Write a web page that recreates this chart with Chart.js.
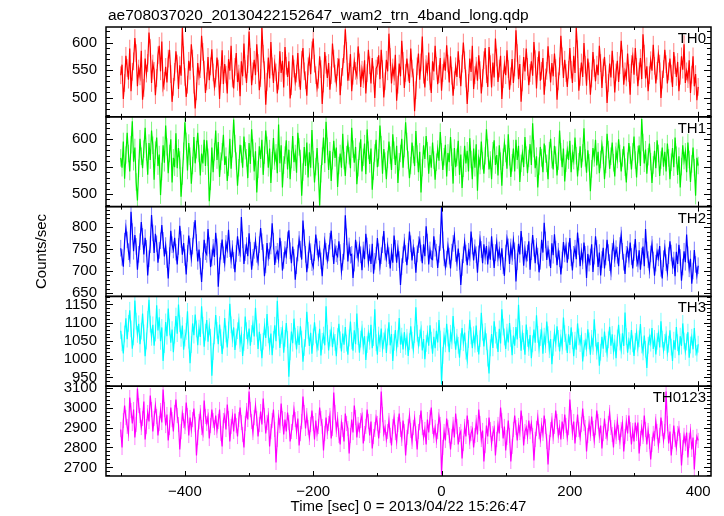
<!DOCTYPE html>
<html>
<head>
<meta charset="utf-8">
<script src="https://cdn.jsdelivr.net/npm/chart.js@4.4.1/dist/chart.umd.min.js"></script>
<style>
  body { margin: 0; background: #fff; }
</style>
</head>
<body>
<canvas id="lcChart" width="724" height="516"></canvas>
<script>
const fileTitle = 'ae708037020_20130422152647_wam2_trn_4band_long.qdp';
const xTitle = 'Time [sec] 0 = 2013/04/22 15:26:47';
const yTitle = 'Counts/sec';

// 2 s bins starting at -500 s (one row = 50 s)
const timeStart = -500;
const timeStep = 2;

const bandNames = ['TH0', 'TH1', 'TH2', 'TH3', 'TH0123'];

const th0 = [
  541, 560, 498, 527, 576, 554, 533, 589, 512, 547, 566, 608, 581, 521, 553, 539, 585, 497, 518, 571, 544, 563, 618, 590, 527,
  562, 549, 505, 536, 577, 594, 548, 602, 519, 531, 556, 528, 571, 587, 543, 493, 520, 547, 584, 562, 516, 559, 540, 626, 577,
  538, 502, 524, 567, 549, 597, 571, 524, 481, 512, 563, 539, 552, 612, 583, 551, 509, 530, 574, 532, 557, 588, 546, 520, 535,
  573, 553, 498, 541, 586, 525, 561, 542, 508, 570, 549, 594, 535, 517, 556, 581, 529, 544, 503, 566, 539, 598, 552, 527, 561,
  620, 574, 523, 548, 569, 541, 597, 563, 514, 536, 626, 580, 550, 488, 529, 573, 535, 601, 557, 527, 562, 546, 508, 531, 584,
  545, 567, 519, 592, 558, 538, 566, 499, 521, 577, 553, 529, 544, 581, 536, 515, 569, 590, 548, 532, 504, 557, 574, 543, 586,
  607, 562, 541, 518, 533, 575, 552, 489, 526, 583, 560, 536, 563, 515, 541, 598, 571, 544, 527, 556, 571, 505, 538, 556, 579,
  624, 585, 531, 547, 579, 512, 540, 566, 549, 540, 593, 564, 520, 551, 534, 568, 508, 545, 587, 559, 526, 572, 541, 500, 553,
  558, 577, 534, 587, 552, 501, 530, 569, 548, 616, 574, 526, 555, 539, 578, 495, 524, 562, 539, 603, 567, 518, 545, 571, 546,
  527, 589, 553, 537, 476, 514, 557, 580, 533, 564, 611, 542, 519, 561, 547, 582, 530, 509, 566, 548, 594, 558, 525, 543, 572,
  513, 545, 566, 549, 595, 562, 528, 575, 540, 504, 532, 557, 538, 584, 552, 521, 562, 600, 568, 535, 489, 527, 571, 547, 594,
  516, 541, 558, 531, 577, 550, 508, 536, 568, 590, 543, 520, 592, 561, 519, 564, 537, 607, 573, 529, 553, 576, 498, 534, 560,
  541, 586, 552, 515, 539, 570, 527, 555, 622, 581, 534, 561, 493, 528, 574, 548, 589, 556, 523, 545, 566, 540, 601, 570, 517,
  558, 584, 531, 549, 572, 506, 537, 549, 593, 560, 528, 563, 539, 580, 554, 497, 530, 557, 612, 575, 536, 569, 545, 520, 551,
  590, 551, 527, 576, 545, 626, 588, 513, 538, 564, 538, 599, 560, 522, 571, 548, 506, 535, 583, 554, 530, 560, 541, 594, 563,
  518, 555, 574, 543, 491, 527, 562, 537, 585, 552, 510, 546, 567, 529, 559, 603, 571, 524, 548, 537, 580, 545, 506, 561, 575,
  542, 590, 556, 521, 548, 572, 534, 615, 580, 535, 557, 512, 541, 568, 549, 596, 558, 526, 549, 579, 562, 500, 533, 552, 587,
  561, 526, 548, 571, 544, 520, 583, 559, 538, 565, 512, 540, 575, 551, 597, 527, 548, 534, 568, 509, 542, 575, 521, 543, 496,
  520
];
const th1 = [
  566, 548, 596, 528, 571, 612, 574, 541, 590, 633, 559, 585, 522, 488, 547, 601, 569, 547, 582, 621, 577, 535, 593, 562, 616,
  589, 526, 580, 603, 551, 572, 498, 541, 589, 557, 625, 586, 538, 574, 600, 521, 566, 549, 611, 547, 584, 562, 495, 533, 578,
  631, 596, 543, 593, 569, 519, 552, 604, 556, 581, 612, 574, 534, 574, 556, 599, 551, 598, 567, 487, 523, 585, 540, 577, 616,
  562, 595, 531, 560, 577, 608, 553, 569, 524, 549, 601, 546, 583, 636, 592, 560, 515, 548, 590, 573, 548, 605, 579, 566, 529,
  593, 555, 618, 584, 541, 578, 503, 545, 587, 564, 599, 535, 571, 616, 589, 548, 583, 520, 561, 602, 560, 575, 538, 627, 556,
  589, 512, 553, 571, 598, 545, 581, 527, 563, 606, 558, 574, 539, 612, 586, 565, 497, 540, 586, 551, 594, 530, 576, 548, 617,
  563, 521, 550, 584, 541, 479, 537, 569, 603, 556, 632, 587, 544, 579, 524, 561, 597, 566, 585, 513, 552, 574, 548, 610, 561,
  533, 572, 592, 570, 547, 621, 582, 557, 586, 518, 548, 578, 600, 541, 567, 592, 536, 618, 580, 555, 583, 508, 542, 575, 599,
  549, 566, 625, 590, 537, 582, 560, 527, 563, 596, 571, 544, 609, 580, 553, 588, 520, 559, 574, 601, 548, 583, 631, 596, 562,
  529, 552, 594, 572, 551, 615, 573, 540, 577, 503, 548, 589, 564, 606, 579, 537, 571, 548, 594, 562, 526, 558, 582, 561, 613,
  577, 544, 568, 590, 532, 575, 558, 604, 567, 519, 584, 549, 567, 597, 535, 572, 511, 547, 588, 556, 579, 541, 602, 563, 527,
  583, 548, 591, 506, 565, 552, 596, 561, 537, 570, 618, 584, 545, 562, 527, 579, 598, 553, 571, 534, 589, 560, 515, 567, 593,
  574, 546, 609, 568, 531, 557, 583, 541, 599, 562, 588, 522, 556, 574, 549, 604, 571, 538, 565, 591, 553, 629, 583, 547, 569,
  512, 551, 586, 566, 540, 592, 573, 556, 527, 579, 601, 563, 545, 588, 571, 534, 560, 616, 577, 549, 583, 523, 556, 580, 562,
  597, 540, 574, 561, 603, 570, 532, 559, 587, 548, 575, 620, 566, 539, 580, 557, 505, 546, 584, 566, 599, 552, 577, 538, 563,
  590, 571, 527, 554, 610, 581, 546, 569, 594, 557, 532, 578, 563, 600, 574, 541, 566, 587, 549, 521, 560, 593, 571, 545, 577,
  605, 562, 530, 572, 589, 551, 637, 594, 556, 581, 537, 568, 592, 559, 520, 553, 579, 547, 598, 574, 533, 562, 585, 550, 577,
  541, 592, 566, 527, 558, 584, 549, 603, 571, 535, 569, 512, 550, 589, 561, 577, 540, 594, 563, 522, 555, 585, 548, 497, 566,
  552
];
const th2 = [
  752, 731, 710, 768, 798, 771, 744, 728, 835, 790, 745, 782, 756, 703, 738, 767, 812, 779, 738, 776, 752, 690, 728, 760, 828,
  787, 741, 785, 762, 719, 747, 769, 805, 770, 733, 758, 726, 683, 735, 792, 760, 748, 776, 743, 715, 756, 803, 772, 737, 764,
  731, 692, 740, 781, 756, 729, 757, 793, 816, 765, 722, 749, 711, 675, 723, 771, 744, 738, 796, 758, 709, 730, 754, 732, 787,
  755, 664, 712, 745, 772, 737, 718, 763, 749, 794, 751, 725, 751, 724, 697, 740, 779, 753, 740, 823, 771, 716, 742, 758, 734,
  786, 747, 703, 731, 747, 769, 738, 721, 760, 798, 767, 742, 688, 714, 764, 731, 746, 757, 809, 768, 714, 738, 745, 727, 776,
  749, 701, 724, 749, 735, 771, 793, 746, 718, 756, 731, 680, 712, 741, 772, 750, 726, 815, 776, 738, 697, 725, 761, 744, 719,
  709, 742, 783, 755, 730, 750, 723, 688, 732, 768, 745, 724, 741, 768, 792, 751, 716, 754, 739, 733, 768, 742, 699, 720, 745,
  827, 778, 722, 757, 736, 738, 684, 718, 771, 748, 729, 759, 737, 702, 748, 727, 785, 757, 719, 742, 716, 762, 694, 722, 736,
  775, 744, 711, 735, 760, 791, 743, 728, 757, 735, 706, 743, 719, 781, 752, 719, 751, 726, 668, 710, 737, 766, 740, 713, 745,
  790, 762, 724, 753, 735, 696, 739, 760, 772, 741, 718, 761, 734, 802, 766, 715, 748, 728, 726, 779, 752, 743, 707, 738, 765,
  846, 771, 730, 709, 727, 757, 734, 706, 743, 763, 781, 740, 719, 751, 722, 668, 708, 737, 766, 741, 713, 745, 731, 790, 757,
  724, 753, 737, 696, 739, 772, 749, 718, 761, 734, 757, 715, 748, 726, 779, 743, 707, 742, 765, 730, 748, 721, 752, 712, 689,
  741, 774, 755, 716, 755, 733, 770, 746, 676, 721, 762, 738, 791, 758, 712, 749, 727, 741, 768, 703, 744, 782, 752, 718, 756,
  734, 697, 722, 771, 742, 810, 771, 725, 750, 730, 707, 763, 736, 784, 750, 713, 745, 728, 692, 725, 766, 739, 757, 719, 746,
  775, 730, 701, 738, 752, 727, 788, 756, 711, 744, 723, 765, 738, 684, 739, 718, 732, 761, 698, 734, 779, 752, 709, 742, 690,
  726, 753, 706, 732, 771, 742, 719, 698, 745, 764, 728, 751, 736, 711, 758, 782, 745, 720, 693, 738, 750, 727, 765, 733, 706,
  742, 773, 729, 716, 747, 703, 734, 756, 711, 796, 748, 726, 702, 739, 761, 725, 689, 718, 744, 730, 757, 706, 683, 728, 752,
  719, 697, 735, 768, 741, 712, 725, 688, 744, 716, 760, 731, 678, 709, 745, 720, 783, 737, 705, 728, 671, 700, 748, 715, 690,
  712
];
const th3 = [
  1078, 1045, 1016, 1069, 1112, 1055, 1098, 1134, 1083, 1029, 1061, 1161, 1104, 1068, 1097, 1041, 1077, 1125, 1072, 1008, 1050, 1109, 1163, 1096, 1060,
  1094, 1037, 1072, 1148, 1079, 1115, 1049, 1087, 995, 1040, 1102, 1063, 1139, 1088, 1045, 1081, 1019, 1066, 1118, 1070, 1150, 1097, 1057, 1092, 1026,
  1058, 1076, 1131, 1052, 989, 1040, 1098, 1066, 1122, 1083, 1038, 1085, 1061, 1145, 1093, 1034, 1074, 1107, 1048, 1089, 1060, 955, 1021, 1064, 1121,
  1079, 1041, 1095, 1059, 1014, 1052, 1113, 1069, 1032, 1080, 1152, 1094, 1056, 1087, 1025, 1061, 1078, 1102, 1043, 1066, 1009, 1046, 1117, 1078, 1051,
  1084, 1037, 1070, 1096, 1062, 1141, 1085, 1028, 1075, 1046, 1003, 1049, 1089, 1058, 1124, 1067, 1035, 1070, 1011, 1054, 1093, 1049, 1160, 1087, 1031,
  1065, 1082, 1018, 1057, 1099, 1054, 952, 1020, 1076, 1044, 1111, 1063, 1027, 1068, 1039, 1090, 1055, 993, 1032, 1057, 1130, 1079, 1036, 1072, 1015,
  1061, 1101, 1066, 1029, 1047, 1083, 1010, 1049, 1066, 1038, 1145, 1071, 1024, 1058, 1079, 1033, 1065, 1046, 1008, 1062, 1097, 1053, 1021, 1070, 1040,
  1088, 1044, 1012, 1058, 1103, 1050, 1023, 1079, 1041, 1125, 1062, 1018, 1055, 1082, 1036, 1063, 998, 1040, 1071, 1049, 1094, 1030, 1059, 1137, 1045,
  1012, 1066, 1043, 1084, 1029, 1050, 1072, 1017, 1061, 1101, 1038, 1069, 995, 1046, 1080, 1031, 1056, 1113, 1040, 1063, 1027, 1074, 1035, 1060, 1009,
  1048, 1090, 1052, 1026, 1067, 1142, 1071, 1038, 1058, 1081, 1024, 1055, 1000, 1043, 1069, 1037, 1093, 1052, 1015, 1061, 1030, 1078, 1046, 1107, 1055,
  932, 1010, 1063, 1042, 1097, 1058, 1019, 1071, 1051, 1118, 1066, 1026, 1060, 1038, 1004, 1048, 1085, 1045, 1073, 1022, 998, 1054, 1108, 1064, 1030,
  1067, 1041, 1092, 1043, 1013, 1056, 1127, 1074, 1035, 1076, 1048, 1003, 961, 1031, 1069, 1031, 1104, 1066, 1052, 1020, 1083, 1043, 1137, 1088, 1061,
  1028, 1074, 1046, 1099, 1057, 1011, 1065, 1037, 1088, 1054, 1149, 1081, 1023, 1070, 1049, 1012, 1095, 1057, 1032, 1066, 1003, 1042, 1081, 1045, 1120,
  1068, 1029, 1059, 1077, 1015, 1063, 1040, 1103, 1067, 1026, 1055, 986, 1032, 1072, 1044, 1090, 1057, 1021, 1058, 1036, 1114, 1070, 1047, 1017, 1068,
  1039, 1087, 1051, 1008, 1052, 1026, 1098, 1061, 1043, 1064, 994, 1030, 1049, 1031, 1082, 1050, 1012, 1057, 1035, 1109, 1058, 1022, 1047, 982, 1019,
  1061, 1029, 1076, 1041, 1016, 1053, 1089, 1037, 1068, 1022, 1044, 1003, 1058, 1094, 1047, 1025, 1071, 1036, 1128, 1062, 1018, 1051, 1035, 1080, 1042,
  1009, 1049, 1073, 1031, 1056, 1096, 1039, 1020, 1065, 1027, 976, 1038, 1061, 1044, 1085, 1028, 1057, 1013, 1049, 1070, 1032, 1104, 1055, 1024, 1046,
  1067, 1018, 1041, 1079, 1033, 995, 1052, 1026, 1088, 1045, 1011, 1063, 1036, 1098, 1050, 1021, 1047, 1074, 1004, 1039, 1060, 1027, 1085, 1033, 1016,
  1041
];
const th0123 = [
  2890, 2800, 2935, 3010, 2950, 2905, 2870, 3050, 2985, 2920, 2990, 2850, 2915, 3095, 3010, 2960, 2900, 2945, 3030, 2840, 2905, 2975, 2930, 3060, 2990,
  2880, 2945, 3010, 2955, 2860, 2920, 2985, 2925, 3090, 2990, 2910, 2965, 2835, 2900, 3000, 2940, 2880, 2975, 3040, 2960, 2915, 2790, 2880, 2970, 2935,
  2905, 3025, 2960, 2860, 2950, 2890, 2940, 2995, 2915, 2760, 2850, 2930, 2975, 2900, 2870, 3035, 2955, 2920, 2955, 2845, 2910, 2990, 2935, 2900, 2960,
  2885, 2930, 2990, 2870, 2805, 2935, 2960, 2890, 3015, 2945, 2830, 2905, 2955, 2880, 2970, 2910, 2855, 2940, 3000, 2925, 2865, 2800, 2920, 2985, 2940,
  3080, 2990, 2930, 2875, 2950, 3010, 2945, 2855, 2915, 2980, 2915, 3045, 2960, 2870, 2925, 2960, 2805, 2880, 2935, 2990, 2890, 2725, 2840, 2950, 2910,
  3020, 2945, 2865, 2940, 2880, 2975, 2925, 2830, 2880, 2925, 2990, 2940, 2880, 2945, 2810, 2870, 2930, 3055, 2975, 2895, 2960, 2900, 2850, 2915, 2985,
  2920, 2840, 2935, 2870, 2905, 3000, 2945, 2905, 2785, 2870, 2950, 2880, 2920, 2960, 2845, 2895, 3075, 2975, 2890, 2940, 2860, 2815, 2925, 2890, 2830,
  2970, 2920, 2895, 2770, 2860, 2940, 2875, 3010, 2950, 2850, 2915, 2885, 2935, 2960, 2820, 2870, 2905, 2990, 2930, 2860, 2930, 2795, 2855, 2890, 2950,
  2920, 2845, 2910, 3080, 2965, 2870, 2900, 2840, 2880, 2935, 2860, 2810, 2905, 2950, 2875, 2830, 2915, 2970, 2890, 2845, 2935, 2880, 2760, 2850, 2905,
  2960, 2885, 2830, 2900, 2945, 2870, 2790, 2880, 2925, 2985, 2900, 2850, 2890, 2815, 2940, 2875, 2950, 3000, 2905, 2860, 2900, 2835, 2880, 2955, 2915,
  2665, 2800, 2880, 2835, 2945, 2900, 2860, 2790, 2855, 2915, 2850, 2970, 2905, 2815, 2865, 2880, 2745, 2820, 2905, 2855, 2960, 2900, 2830, 2870, 2890,
  2800, 2860, 2925, 2865, 2990, 2920, 2840, 2885, 2730, 2810, 2910, 2855, 2950, 2890, 2820, 2870, 2895, 2760, 2840, 2915, 2870, 3000, 2935, 2845, 2905,
  2785, 2850, 2935, 2860, 2730, 2805, 2890, 2960, 2900, 2835, 2910, 2875, 2985, 2920, 2810, 2880, 2900, 2855, 2935, 2880, 2920, 2860, 2735, 2840, 2895,
  2950, 2880, 2840, 2910, 2870, 2960, 2905, 2830, 2715, 2825, 2890, 2935, 2855, 2905, 2985, 2930, 2860, 2900, 2840, 2930, 2880, 2965, 2910, 2850, 2900,
  3040, 2950, 2875, 2930, 2820, 2890, 2965, 2890, 2850, 2915, 2995, 2920, 2900, 2780, 2860, 2920, 2870, 2955, 2895, 2835, 2900, 2985, 2930, 2860, 2910,
  2795, 2870, 2945, 2880, 2850, 2920, 2975, 2900, 2865, 2800, 2900, 2855, 2930, 2875, 2830, 2890, 2920, 2780, 2855, 2925, 2870, 2960, 2890, 2815, 2885,
  2830, 2925, 2870, 2925, 2770, 2845, 2900, 2855, 2960, 2890, 2815, 2885, 2830, 2740, 2815, 2870, 2845, 2930, 2880, 2810, 2860, 2950, 2895, 2835, 2880,
  3080, 2920, 2820, 2880, 2760, 2830, 2910, 2840, 2800, 2870, 2895, 2835, 2710, 2800, 2860, 2820, 2875, 2750, 2835, 2880, 2790, 2850, 2690, 2800, 2855,
  2835
];
const bandData = [th0, th1, th2, th3, th0123];

// per-panel axis limits, labelled ticks, minor tick step, error half-width
const bandRanges = [[466, 628], [477, 641], [642, 847], [926, 1172], [2657, 3107]];
const bandTicks = [
  [500, 550, 600],
  [500, 550, 600],
  [650, 700, 750, 800],
  [950, 1000, 1050, 1100, 1150],
  [2700, 2800, 2900, 3000, 3100]
];
const bandMinor = [10, 10, 10, 10, 20];
const bandErr = [16, 16, 19, 23, 38];

const xRange = [-523, 420];
const xTicks = [-400, -200, 0, 200, 400];
const xMinor = 100;

const bandColors = ['#ff0000', '#00ee00', '#0000ff', '#00ffff', '#ff00ff'];
const errColors = ['rgba(255,0,0,0.5)', 'rgba(0,238,0,0.5)', 'rgba(0,0,255,0.5)', 'rgba(0,255,255,0.55)', 'rgba(255,0,255,0.5)'];

const fontFamily = '"Liberation Sans", Arial, Helvetica, sans-serif';
const times = th0.map((v, i) => timeStart + i * timeStep);

const datasets = bandNames.map((name, i) => ({
  label: name,
  data: bandData[i].map((v, k) => ({ x: times[k], y: v })),
  yAxisID: 'y' + i,
  borderColor: bandColors[i],
  borderWidth: 1.2,
  pointRadius: 0,
  tension: 0,
  fill: false
}));

const scales = {
  x: {
    type: 'linear',
    min: xRange[0],
    max: xRange[1],
    grid: { display: false, drawTicks: false },
    border: { display: false },
    ticks: {
      color: '#000',
      font: { family: fontFamily, size: 15 },
      padding: 7,
      autoSkip: false,
      maxRotation: 0,
      callback: v => String(v).replace('-', '\u2212')
    },
    afterBuildTicks: s => { s.ticks = xTicks.map(v => ({ value: v })); },
    afterFit: s => { s.height = 40; }
  }
};
// left-side stacked boxes come out in reverse order, so add the bottom panel first
for (let i = bandNames.length - 1; i >= 0; i--) {
  scales['y' + i] = {
    type: 'linear',
    position: 'left',
    stack: 'bands',
    stackWeight: 1,
    min: bandRanges[i][0],
    max: bandRanges[i][1],
    grid: { display: false, drawTicks: false },
    border: { display: false },
    ticks: {
      color: '#000',
      font: { family: fontFamily, size: 15 },
      padding: 9,
      autoSkip: false,
      callback: v => String(v)
    },
    afterBuildTicks: s => { s.ticks = bandTicks[i].map(v => ({ value: v })); },
    afterFit: s => { s.width = 106; }
  };
}

const qdpFrames = {
  id: 'qdpFrames',
  beforeDatasetDraw(chart, args) {
    const i = args.index;
    const ca = chart.chartArea;
    const ys = chart.scales['y' + i];
    const ctx = chart.ctx;
    ctx.save();
    ctx.beginPath();
    ctx.rect(ca.left, ys.top, ca.right - ca.left, ys.bottom - ys.top);
    ctx.clip();
    // light error bars under the line
    ctx.strokeStyle = errColors[i];
    ctx.lineWidth = 1;
    ctx.beginPath();
    args.meta.data.forEach((pt, k) => {
      const v = bandData[i][k];
      ctx.moveTo(pt.x, ys.getPixelForValue(v + bandErr[i]));
      ctx.lineTo(pt.x, ys.getPixelForValue(v - bandErr[i]));
    });
    ctx.stroke();
  },
  afterDatasetDraw(chart) {
    chart.ctx.restore();
  },
  afterDraw(chart) {
    const ctx = chart.ctx;
    const ca = chart.chartArea;
    const xs = chart.scales.x;
    ctx.save();
    ctx.strokeStyle = '#000';
    ctx.lineWidth = 1;
    bandNames.forEach((name, i) => {
      const ys = chart.scales['y' + i];
      // y ticks, inward on both sides
      ctx.beginPath();
      const lo = bandRanges[i][0], hi = bandRanges[i][1];
      for (let v = Math.ceil(lo / bandMinor[i]) * bandMinor[i]; v <= hi; v += bandMinor[i]) {
        const y = Math.round(ys.getPixelForValue(v)) + 0.5;
        const len = bandTicks[i].includes(v) ? 7 : 4;
        ctx.moveTo(ca.left, y); ctx.lineTo(ca.left + len, y);
        ctx.moveTo(ca.right, y); ctx.lineTo(ca.right - len, y);
      }
      // x ticks at top and bottom of each panel
      for (let t = Math.ceil(xRange[0] / xMinor) * xMinor; t <= xRange[1]; t += xMinor) {
        const x = Math.round(xs.getPixelForValue(t)) + 0.5;
        const len = xTicks.includes(t) ? 5 : 3;
        ctx.moveTo(x, ys.top); ctx.lineTo(x, ys.top + len);
        ctx.moveTo(x, ys.bottom); ctx.lineTo(x, ys.bottom - len);
      }
      ctx.stroke();
      ctx.lineWidth = 1.5;
      ctx.strokeRect(ca.left, ys.top, ca.right - ca.left, ys.bottom - ys.top);
      ctx.lineWidth = 1;
      // band label
      ctx.fillStyle = '#000';
      ctx.font = '15px ' + fontFamily;
      ctx.textAlign = 'right';
      ctx.textBaseline = 'alphabetic';
      ctx.fillText(name, ca.right - 5, ys.top + 16);
    });
    ctx.font = '15.5px ' + fontFamily;
    ctx.textAlign = 'left';
    ctx.fillText(fileTitle, ca.left + 2, 20);
    ctx.font = '15px ' + fontFamily;
    ctx.textAlign = 'center';
    ctx.textBaseline = 'middle';
    ctx.fillText(xTitle, (ca.left + ca.right) / 2, 507);
    ctx.translate(42, (ca.top + ca.bottom) / 2);
    ctx.rotate(-Math.PI / 2);
    ctx.fillText(yTitle, 0, 0);
    ctx.restore();
  }
};

new Chart(document.getElementById('lcChart'), {
  type: 'line',
  data: { datasets },
  options: {
    responsive: false,
    animation: false,
    layout: { padding: { top: 27, right: 13, bottom: 0, left: 0 } },
    plugins: { legend: { display: false }, title: { display: false }, tooltip: { enabled: false } },
    scales
  },
  plugins: [qdpFrames]
});
</script>
</body>
</html>
